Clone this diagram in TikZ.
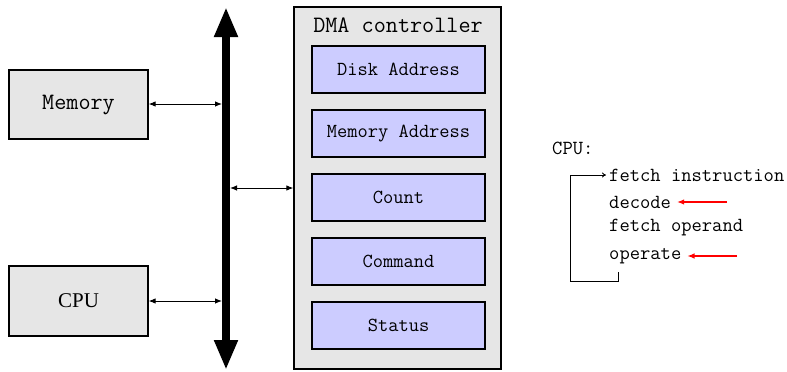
\documentclass[tikz,border=0pt]{standalone}
\usepackage{fontspec}
\newfontfamily\serifcpu{Liberation Serif}
\usetikzlibrary{arrows.meta}
\definecolor{boxgray}{HTML}{E6E6E6}
\definecolor{regblue}{HTML}{CCCCFF}
\tikzset{
  unitbox/.style={draw=black, line width=1.3pt, fill=boxgray, minimum width=139pt, minimum height=69pt, inner sep=0pt},
  regbox/.style={draw=black, line width=1.3pt, fill=regblue, minimum width=173pt, minimum height=47pt, inner sep=0pt,
     font=\ttfamily\fontsize{19.9}{21}\selectfont},
  bigmono/.style={font=\ttfamily\fontsize{23.5}{25}\selectfont},
  smallmono/.style={font=\ttfamily\fontsize{20}{21}\selectfont, inner sep=0pt, anchor=west},
  biarrow/.style={line width=0.9pt, {Latex[length=7pt,width=5.5pt]}-{Latex[length=7pt,width=5.5pt]}},
  redarrow/.style={draw=red, line width=1.1pt, -{Latex[length=7pt,width=5.5pt]}},
  looparrow/.style={line width=0.9pt, -{To[length=4pt,width=5pt]}},
}
\begin{document}
\begin{tikzpicture}[x=1pt,y=-1pt]
\useasboundingbox (0,0) rectangle (787,372);
% bus
\coordinate (busTop) at (226,7);
\coordinate (busBot) at (226,370);
\draw[line width=8pt, {Triangle[width=22pt,length=30pt]}-{Triangle[width=22pt,length=30pt]}] (busTop) -- (busBot);
% left units
\node[unitbox, bigmono] (mem) at (78.5,104.5) {Memory};
\node[unitbox, minimum height=70pt, font=\serifcpu\fontsize{21}{23}\selectfont] (cpu) at (78.5,301) {CPU};
% DMA controller
\node[draw=black, line width=1.3pt, fill=boxgray, minimum width=207pt, minimum height=362pt, inner sep=0pt] (dma) at (397.5,188) {};
\node[bigmono, anchor=center] (dmatitle) at (398,25) {DMA controller};
\node[regbox] (r1) at (398.5,69.5) {Disk Address};
\node[regbox] (r2) at (398.5,133.5) {Memory Address};
\node[regbox] (r3) at (398.5,197.5) {Count};
\node[regbox] (r4) at (398.5,261.5) {Command};
\node[regbox] (r5) at (398.5,325.5) {Status};
% connections to bus
\coordinate (busMem) at (222,104);
\coordinate (busCpu) at (222,301);
\coordinate (busDma) at (230,188);
\draw[biarrow] (mem.east |- busMem) -- (busMem);
\draw[biarrow] (cpu.east |- busCpu) -- (busCpu);
\draw[biarrow] (busDma) -- (dma.west |- busDma);
% right side CPU cycle
\node[smallmono] (cpulbl) at (552,148) {CPU:};
\node[smallmono] (fi) at (609,175) {fetch instruction};
\node[smallmono] (dec) at (609,202) {decode};
\node[smallmono] (fo) at (609,228) {fetch operand};
\node[smallmono] (op) at (609,256) {operate};
\coordinate (loopStart) at (618,272);
\coordinate (loopLeft) at (570,281);
\draw[looparrow] (loopStart) -- (618,281) -- (loopLeft) |- ([xshift=-3pt]fi.west);
\coordinate (redA) at (727,202);
\coordinate (redB) at (737,256);
\draw[redarrow] (redA) -- ([xshift=6pt]dec.east);
\draw[redarrow] (redB) -- ([xshift=6pt]op.east);
\end{tikzpicture}
\end{document}
